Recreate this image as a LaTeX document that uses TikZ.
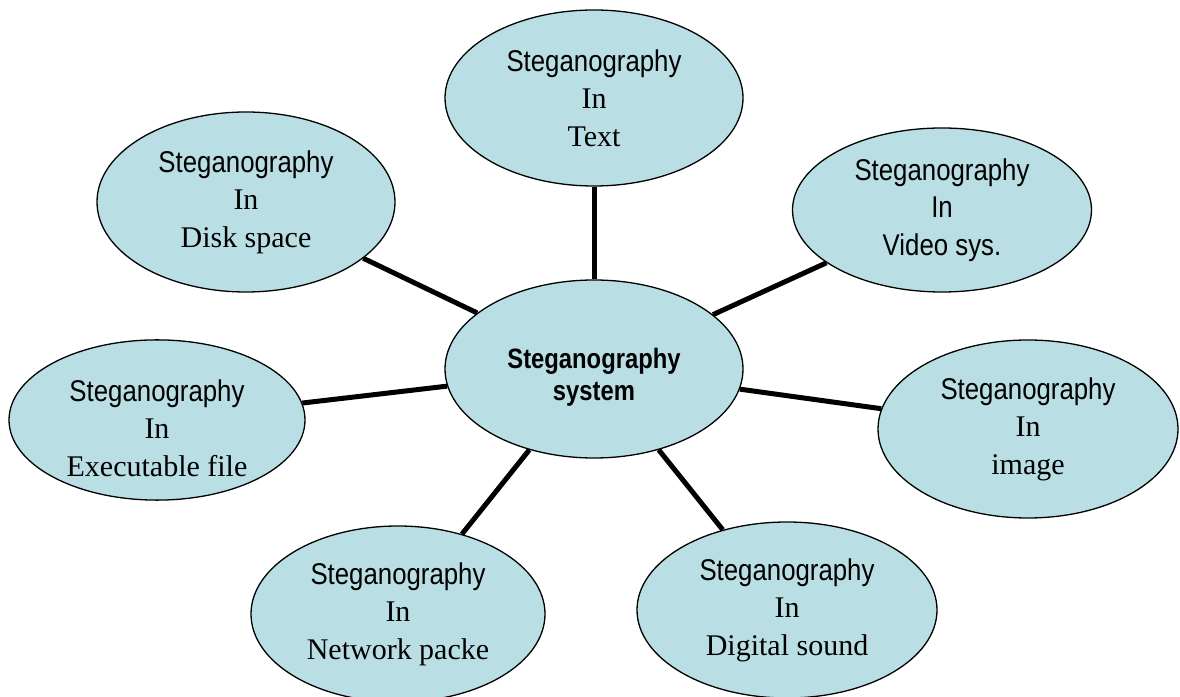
\documentclass[tikz,border=0pt]{standalone}
\usepackage{fontspec}
\setmainfont{Liberation Serif}
\newfontfamily\narrowsans[FakeStretch=0.86]{Liberation Sans}
\newfontfamily\narrowbold[FakeStretch=0.85]{Liberation Sans}
\usetikzlibrary{shapes.geometric,backgrounds}
\definecolor{bubblefill}{RGB}{185,223,228}
\tikzset{
  bubble/.style={ellipse, draw=black, line width=1.3pt, fill=bubblefill,
    inner sep=0pt, align=center, font=\fontsize{30}{37.5}\selectfont},
  sansbubble/.style={bubble, font=\narrowsans\fontsize{30}{37.5}\selectfont},
  hub/.style={bubble, font=\narrowbold\bfseries\fontsize{28}{32}\selectfont},
  link/.style={line width=5pt, draw=black}
}
\begin{document}
\begin{tikzpicture}[x=1pt,y=1pt]
\clip (0,0) rectangle (1180,696);
\node[hub, minimum width=298pt, minimum height=178pt, text height=68pt] (C) at (594,327) {Steganography\\system};
\node[bubble, minimum width=298pt, minimum height=176pt] (T) at (594,598) {{\narrowsans Steganography}\\In\\Text};
\node[bubble, minimum width=298pt, minimum height=180pt] (D) at (246,494) {{\narrowsans Steganography}\\In\\Disk space};
\node[sansbubble, minimum width=299pt, minimum height=164pt] (V) at (942,486) {Steganography\\In\\Video sys.};
\node[bubble, minimum width=296pt, minimum height=160pt, text height=113pt] (X) at (157,276) {{\narrowsans Steganography}\\In\\Executable file};
\node[bubble, minimum width=300pt, minimum height=178pt] (I) at (1028,267) {{\narrowsans Steganography}\\In\\image};
\node[bubble, minimum width=294pt, minimum height=176pt] (N) at (398,82) {{\narrowsans Steganography}\\In\\Network packe};
\node[bubble, minimum width=300pt, minimum height=176pt] (S) at (787,86) {{\narrowsans Steganography}\\In\\Digital sound};
\begin{scope}[on background layer]
\draw[link] (C) -- (T);
\draw[link] (C) -- (D);
\draw[link] (C) -- (V);
\draw[link] (C) -- (X);
\draw[link] (C) -- (I);
\draw[link] (C) -- (N);
\draw[link] (C) -- (S);
\end{scope}
\end{tikzpicture}
\end{document}
